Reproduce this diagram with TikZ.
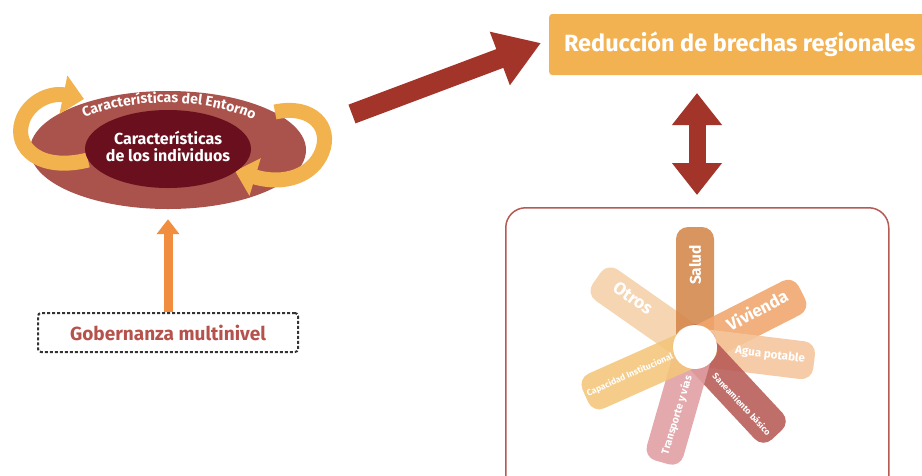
\documentclass[tikz,border=0pt]{standalone}
\usepackage{fontspec}
\newfontfamily\cf{Fira Sans}
\usetikzlibrary{shapes.geometric,arrows.meta,decorations.text,calc}
\definecolor{envred}{HTML}{AA524C}
\definecolor{indred}{HTML}{6A0F1E}
\definecolor{arrowred}{HTML}{A3342A}
\definecolor{boxorange}{HTML}{F2B252}
\definecolor{cycorange}{HTML}{F2B24E}
\definecolor{govorange}{HTML}{F08D3E}
\definecolor{govtext}{HTML}{B5524C}
\definecolor{panelline}{HTML}{B55A55}
\definecolor{cOtros}{HTML}{F5D0A8}
\definecolor{cSalud}{HTML}{D4874A}
\definecolor{cViv}{HTML}{F0A66C}
\definecolor{cAgua}{HTML}{F5C69C}
\definecolor{cSan}{HTML}{B85A56}
\definecolor{cTrans}{HTML}{E09EA1}
\definecolor{cCap}{HTML}{F4C67A}
\begin{document}
\begin{tikzpicture}[x=1pt,y=1pt,
  cycarrow/.style={draw=cycorange, line width=15pt, -{Triangle[length=21pt,width=38pt]}},
  bigarrow/.style={draw=arrowred, line width=20pt, -{Triangle[length=44pt,width=54pt]}},
  dblarrow/.style={draw=arrowred, line width=17pt, {Triangle[length=32pt,width=48pt]}-{Triangle[length=32pt,width=48pt]}},
  govarrow/.style={draw=govorange, line width=9pt, -{Triangle[length=15pt,width=22pt]}},
  petal/.style={rectangle, rounded corners=12pt, minimum width=140pt, minimum height=38pt, fill opacity=0.88, inner sep=0pt},
  ptext/.style={text=white, inner sep=0pt},
]
\useasboundingbox (0,0) rectangle (922,-475);
\fill[white] (0,0) rectangle (922,-475);

% left ellipses
\node[ellipse, fill=envred, minimum width=276pt, minimum height=118pt, inner sep=0pt] (env) at (168,-150) {};
\draw[cycarrow] (88,-160) .. controls (40,-172) and (14,-148) .. (22,-122) .. controls (28,-102) and (50,-92) .. (84,-99);
\draw[cycarrow] (275,-112) .. controls (312,-104) and (332,-127) .. (322,-152) .. controls (313,-175) and (285,-186) .. (235,-171);
\node[ellipse, fill=indred, minimum width=166pt, minimum height=78pt, inner sep=0pt] (ind) at (168,-149) {};
\node[text=white, align=center, font=\cf\bfseries\fontsize{16}{17}\selectfont] (indt) at (168,-146) {Características\\de los individuos};
\path[decorate, decoration={text along path, text align=center, text color=white,
  text={|\cf\bfseries\fontsize{14}{14}\selectfont|Características del Entorno}}]
  (82,-119) .. controls (130,-97) and (205,-97) .. (256,-121);

% governance box
\node[draw=black!80, dashed, dash pattern=on 3pt off 2pt, line width=2pt, rounded corners=3pt,
  minimum width=260pt, minimum height=39pt, text=govtext, font=\cf\bfseries\fontsize{19}{19}\selectfont] (gov) at (168,-332.5) {Gobernanza multinivel};
\draw[govarrow] (gov.north) -- ([yshift=-10pt]env.south);

% top box
\node[fill=boxorange, rounded corners=3pt, minimum width=381pt, minimum height=61pt, anchor=west,
  text=white, font=\cf\bfseries\fontsize{23.5}{23.5}\selectfont] (red) at (549,-44.5) {Reducción de brechas regionales};

% big arrow
\coordinate (ba1) at (352,-114);
\coordinate (ba2) at (541,-43);
\draw[bigarrow] (ba1) -- (ba2);

% double arrow
\coordinate (da1) at (697,-93);
\coordinate (da2) at (697,-195);
\draw[dblarrow] (da1) -- (da2);

% panel
\node[draw=panelline, line width=1.5pt, rounded corners=20pt, minimum width=383pt, minimum height=290pt, anchor=north west] (panel) at (505,-207) {};

% flower
\coordinate (fc) at (695,-347);
\foreach \ang/\col/\nm in {145/cOtros/po, 90/cSalud/ps, 27/cViv/pv, -7/cAgua/pa, -47/cSan/pn, -106/cTrans/pt, -156/cCap/pc} {
  \node[petal, fill=\col, rotate=\ang] (\nm) at ($(fc)+(\ang:50)$) {};
}
\node[circle, fill=white, minimum size=44pt, inner sep=0pt] (hub) at (fc) {};

\node[ptext, rotate=90, font=\cf\bfseries\fontsize{15.5}{15.5}\selectfont] (ts) at (695,-265) {Salud};
\node[ptext, rotate=28, font=\cf\bfseries\fontsize{17}{17}\selectfont] (tv) at (757,-310) {Vivienda};
\node[ptext, rotate=-35, font=\cf\bfseries\fontsize{17.5}{17.5}\selectfont] (to) at (633,-298) {Otros};
\node[ptext, rotate=-7, font=\cf\bfseries\fontsize{11.6}{11.6}\selectfont] (ta) at (770,-355) {Agua potable};
\node[ptext, rotate=-47, font=\cf\bfseries\fontsize{8.8}{8.8}\selectfont] (tn) at (742,-404) {Saneamiento básico};
\node[ptext, rotate=73, font=\cf\bfseries\fontsize{10.5}{10.5}\selectfont] (tt) at (677,-415) {Transporte y vías};
\node[ptext, rotate=24, font=\cf\bfseries\fontsize{8.7}{8.7}\selectfont] (tc) at (630,-375) {Capacidad Institucional};
\end{tikzpicture}
\end{document}
